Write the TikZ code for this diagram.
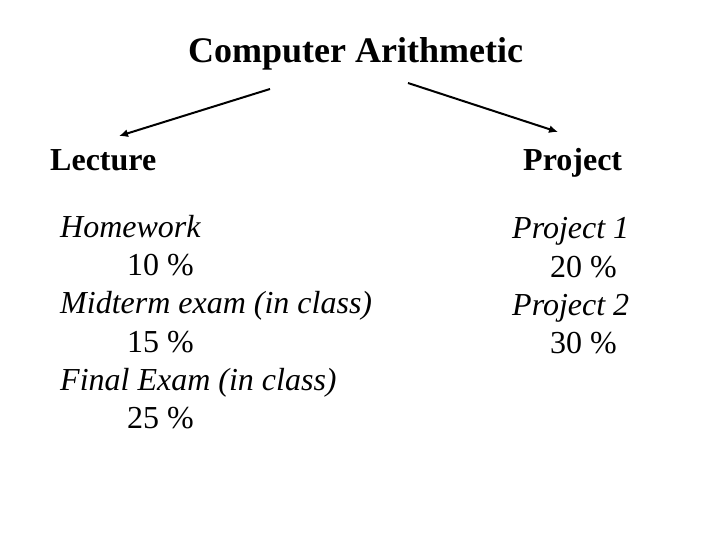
\documentclass[tikz,border=0pt]{standalone}
\usepackage{fontspec}
\setmainfont{Liberation Serif}
\usetikzlibrary{arrows.meta}
\begin{document}
\begin{tikzpicture}[x=1pt,y=-1pt,
  title/.style={anchor=base west,inner sep=0pt,font=\fontsize{36}{40}\selectfont\bfseries},
  head/.style={anchor=base west,inner sep=0pt,font=\fontsize{32}{36}\selectfont\bfseries},
  item/.style={anchor=base west,inner sep=0pt,font=\fontsize{32}{36}\selectfont\itshape},
  pct/.style={anchor=base west,inner sep=0pt,font=\fontsize{32}{36}\selectfont},
  conn/.style={line width=2pt,-{Latex[length=9pt,width=8pt]}}]
\useasboundingbox (0,0) rectangle (720,540);
\node[title] (t) at (188,63) {Computer Arithmetic};
\node[head] (lec) at (50,171) {Lecture};
\node[head] (proj) at (523,171) {Project};
\coordinate (ls) at (270,89);
\coordinate (le) at (119,136);
\coordinate (rs) at (408,83);
\coordinate (re) at (558,132);
\draw[conn] (ls) -- (le);
\draw[conn] (rs) -- (re);
\node[item] (hw) at (60,237) {Homework};
\node[pct] (hwp) at (127,275) {10 \%};
\node[item] (mt) at (60,313) {Midterm exam (in class)};
\node[pct] (mtp) at (127,352) {15 \%};
\node[item] (fe) at (60,390) {Final Exam (in class)};
\node[pct] (fep) at (127,428) {25 \%};
\node[item] (p1) at (512,238) {Project 1};
\node[pct] (p1p) at (550,277) {20 \%};
\node[item] (p2) at (512,315) {Project 2};
\node[pct] (p2p) at (550,353) {30 \%};
\end{tikzpicture}
\end{document}
